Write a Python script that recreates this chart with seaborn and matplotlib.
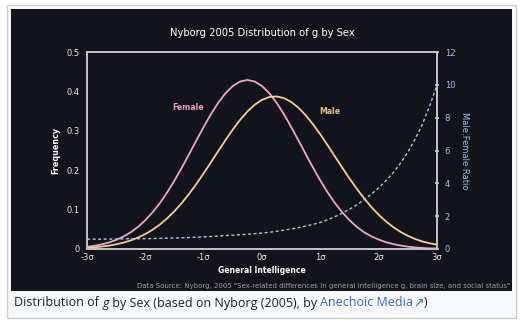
import matplotlib
matplotlib.use("Agg")
import matplotlib.pyplot as plt
import seaborn as sns
import pandas as pd
from matplotlib.patches import Rectangle

# ---- data ----
sigma_pos = [-3.0, -2.875, -2.75, -2.625, -2.5, -2.375, -2.25, -2.125, -2.0, -1.875,
             -1.75, -1.625, -1.5, -1.375, -1.25, -1.125, -1.0, -0.875, -0.75, -0.625,
             -0.5, -0.375, -0.25, -0.125, 0.0, 0.125, 0.25, 0.375, 0.5, 0.625,
             0.75, 0.875, 1.0, 1.125, 1.25, 1.375, 1.5, 1.625, 1.75, 1.875,
             2.0, 2.125, 2.25, 2.375, 2.5, 2.625, 2.75, 2.875, 3.0]
female_freq = [0.0054, 0.0080, 0.0116, 0.0165, 0.0230, 0.0315, 0.0425, 0.0562, 0.0731, 0.0932,
               0.1168, 0.1438, 0.1738, 0.2064, 0.2407, 0.2755, 0.3099, 0.3423, 0.3712, 0.3955,
               0.4137, 0.4251, 0.4290, 0.4251, 0.4137, 0.3955, 0.3712, 0.3423, 0.3099, 0.2755,
               0.2407, 0.2064, 0.1738, 0.1438, 0.1168, 0.0932, 0.0731, 0.0562, 0.0425, 0.0320,
               0.0240, 0.0172, 0.0125, 0.0088, 0.0060, 0.0040, 0.0026, 0.0017, 0.0010]
male_freq = [0.0029, 0.0042, 0.0061, 0.0085, 0.0119, 0.0162, 0.0218, 0.0290, 0.0380, 0.0490,
             0.0622, 0.0779, 0.0961, 0.1168, 0.1399, 0.1651, 0.1920, 0.2201, 0.2486, 0.2766,
             0.3034, 0.3278, 0.3490, 0.3662, 0.3786, 0.3857, 0.3872, 0.3830, 0.3733, 0.3585,
             0.3393, 0.3164, 0.2908, 0.2633, 0.2349, 0.2066, 0.1789, 0.1528, 0.1285, 0.1065,
             0.0870, 0.0700, 0.0555, 0.0434, 0.0334, 0.0254, 0.0190, 0.0145, 0.0110]
ratio = [0.60, 0.60, 0.60, 0.605, 0.61, 0.615, 0.62, 0.625, 0.63, 0.64,
         0.65, 0.66, 0.67, 0.685, 0.70, 0.72, 0.74, 0.765, 0.79, 0.815,
         0.84, 0.87, 0.90, 0.935, 0.97, 1.02, 1.08, 1.15, 1.22, 1.30,
         1.40, 1.50, 1.62, 1.78, 1.97, 2.18, 2.42, 2.69, 3.00, 3.34,
         3.72, 4.16, 4.65, 5.23, 5.90, 6.70, 7.60, 8.72, 10.0]
xtick_vals = [-3, -2, -1, 0, 1, 2, 3]
xtick_labels = ["-3σ", "-2σ", "-1σ", "0σ", "1σ", "2σ", "3σ"]
ytick_vals = [0, 0.1, 0.2, 0.3, 0.4, 0.5]
ytick_labels = ["0", "0.1", "0.2", "0.3", "0.4", "0.5"]
rtick_vals = [0, 2, 4, 6, 8, 10, 12]

df = pd.DataFrame({"sigma": sigma_pos, "female": female_freq,
                   "male": male_freq, "ratio": ratio})

sns.set_theme(style="dark")
plt.rcParams['font.family'] = ['DejaVu Sans']

W, H = 522, 323
fig = plt.figure(figsize=(W / 100, H / 100), dpi=100)
fig.patch.set_facecolor("white")

BG = "#13131d"
fig.add_artist(Rectangle((7 / W, 1 - 318 / H), (516 - 7) / W, (318 - 5) / H,
                         transform=fig.transFigure, facecolor="#f8f9fa",
                         edgecolor="#c8ccd1", lw=1, zorder=-5))
fig.add_artist(Rectangle((11 / W, 1 - 291 / H), 501 / W, 282 / H,
                         transform=fig.transFigure, facecolor=BG,
                         edgecolor="none", zorder=-4))

ax = fig.add_axes([87 / W, 74 / H, 350 / W, 197 / H])
ax.set_facecolor("none")

FEM = "#e8a8c4"
MAL = "#f3cf90"
RAT = "#a9c3ee"
SPINE = "#c4c4c8"

sns.lineplot(data=df, x="sigma", y="female", ax=ax, color=FEM, lw=1.3)
sns.lineplot(data=df, x="sigma", y="male", ax=ax, color=MAL, lw=1.3)
ax.set_xlim(-3, 3)
ax.set_ylim(0, 0.5)
ax.set_xticks(xtick_vals)
ax.set_xticklabels(xtick_labels)
ax.set_yticks(ytick_vals)
ax.set_yticklabels(ytick_labels)
ax.tick_params(axis="both", length=0, colors="#e6e6ea", labelsize=6)
ax.tick_params(axis="x", pad=3)
ax.tick_params(axis="y", pad=5)
ax.grid(False)
for s in ax.spines.values():
    s.set_visible(True)
    s.set_color(SPINE)
    s.set_linewidth(1.4)
ax.set_xlabel("General Intelligence", color="white", fontweight="bold",
              fontsize=5.5, labelpad=2.5)
ax.set_ylabel("Frequency", color="white", fontweight="bold", fontsize=5.8,
              labelpad=5)

ax.text(-1.27, 0.358, "Female", color="#e2a2bc", fontsize=5.6,
        fontweight="bold", ha="center", va="center")
ax.text(1.17, 0.350, "Male", color="#e6c08c", fontsize=5.6,
        fontweight="bold", ha="center", va="center")

ax2 = ax.twinx()
ax2.set_facecolor("none")
sns.lineplot(data=df, x="sigma", y="ratio", ax=ax2, color=RAT, lw=1.0,
             linestyle=(0, (2.2, 1.8)))
ax2.set_ylim(0, 12)
ax2.set_xlim(-3, 3)
ax2.set_yticks(rtick_vals)
ax2.tick_params(axis="y", length=3, direction="inout", color=SPINE,
                labelcolor="#a8bde6", labelsize=6, pad=4)
ax2.grid(False)
for s in ax2.spines.values():
    s.set_visible(False)
ax2.set_ylabel("Male:Female Ratio", color="#a8bde6", fontsize=6,
               rotation=270, labelpad=10)

fig.text(262 / W, 1 - 33 / H, "Nyborg 2005 Distribution of g by Sex",
         color="white", fontsize=7.2, ha="center", va="center")
fig.text(510 / W, 1 - 286 / H,
         'Data Source: Nyborg, 2005 "Sex-related differences in general '
         'intelligence g, brain size, and social status"',
         color="#9c9ca8", fontsize=5.0, ha="right", va="center")

# caption composed of styled pieces
fig.canvas.draw()
renderer = fig.canvas.get_renderer()
pieces = [("Distribution of ", "normal", "#202122"),
          ("g", "italic", "#202122"),
          (" by Sex (based on Nyborg (2005), by ", "normal", "#202122"),
          ("Anechoic Media", "normal", "#3366cc"),
          ("\u2197", "normal", "#3366cc"),
          (")", "normal", "#202122")]
xpix = 14
ycap = 1 - 303 / H
for txt, style, col in pieces:
    fam = ["Open Sans", "DejaVu Sans"] if txt != "\u2197" else ["DejaVu Sans"]
    t = fig.text(xpix / W, ycap, txt, fontsize=9, style=style, color=col,
                 ha="left", va="center", family=fam)
    bb = t.get_window_extent(renderer=renderer)
    xpix += bb.width

fig.savefig("out.png", dpi=100, facecolor="white")
